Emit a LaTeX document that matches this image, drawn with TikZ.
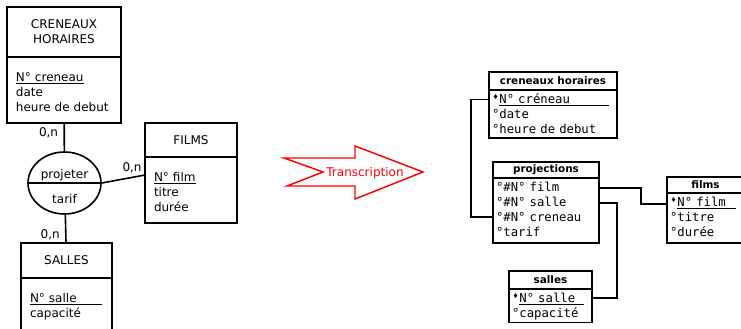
\documentclass[tikz,border=0pt]{standalone}
\usepackage{fontspec}
\setmainfont{DejaVu Sans}
\setmonofont{DejaVu Sans Mono}
\usepackage{graphicx}
\usetikzlibrary{positioning,shapes.geometric}

\newcommand{\marqcle}{\makebox[0.602em][c]{\raisebox{0.3em}{\scalebox{0.55}{\rmfamily ♦}}}}

\tikzset{
  entite/.style={draw, line width=1.2pt, outer sep=0pt, align=center, font=\fontsize{9}{11.25}\selectfont},
  attributs/.style={draw, line width=1.2pt, outer sep=0pt, align=left, inner xsep=6.75pt, inner ysep=0pt, text height=18pt, font=\fontsize{9}{11.25}\selectfont},
  assoc/.style={draw, ellipse, line width=1.2pt, inner sep=0pt, minimum width=54.75pt, minimum height=46.5pt, align=center, font=\fontsize{9}{11.25}\selectfont},
  cardin/.style={inner sep=2pt, font=\fontsize{9}{11.25}\selectfont},
  lien/.style={line width=1.2pt},
  tabletete/.style={draw, line width=1.1pt, outer sep=0pt, inner sep=0pt, font=\fontsize{7.8}{9}\selectfont\bfseries},
  champs/.style={draw, line width=1.1pt, outer sep=0pt, align=left, inner xsep=2.25pt, inner ysep=0pt, text height=10.25pt, font=\fontsize{9.2}{11.25}\selectfont\ttfamily},
  tablelien/.style={line width=1.1pt}
}

\begin{document}
\begin{tikzpicture}[x=0.75pt, y=-0.75pt]
    \useasboundingbox (0,0) rectangle (741,328);

    % Modele conceptuel
    \node[entite, minimum width=85.5pt, minimum height=37.5pt] (cren) at (64,32) {CRENEAUX\\HORAIRES};
    \node[attributs, text width=72pt, text depth=31.5pt, below=0pt of cren] (cren-att) {\underline{N° creneau}\\date\\heure de debut};

    \node[entite, minimum width=69pt, minimum height=25.5pt] (films) at (191,140) {FILMS};
    \node[attributs, text width=55.5pt, text depth=31.5pt, below=0pt of films] (films-att) {\underline{N° film}\\titre\\durée};

    \node[entite, minimum width=68.25pt, minimum height=26.25pt] (salles) at (66.5,260.5) {SALLES};
    \node[attributs, text width=54.75pt, text depth=30pt, below=0pt of salles] (salles-att) {\underline{N° salle\hspace{2.1em}}\\capacité};

    % Association
    \node[assoc] (proj) at (64.5,183) {\rule{0pt}{11.5pt}projeter\\[7.5pt]tarif};
    \draw[lien] (proj.west) -- (proj.east);

    \draw[lien] (cren-att) -- node[cardin, pos=0.35, left=2pt] {0,n} (proj);
    \draw[lien] (proj.east) -- node[cardin, pos=0.7, above=1pt] {0,n} ([yshift=-13.5pt]films-att.north west);
    \draw[lien] (proj) -- node[cardin, pos=0.72, left=2pt] {0,n} (salles);

    % Fleche
    \draw[red, line width=1.1pt] (284,158) -- (355,158) -- (355,146) -- (423,172) -- (355,199) -- (355,186) -- (287,186) -- (323,172) -- cycle;
    \node[text=red, font=\fontsize{9}{11.25}\selectfont] (transc) at (365,173) {Transcription};

    % Modele logique
    \node[tabletete, minimum width=96pt, minimum height=13.5pt] (t-cren) at (553,81) {creneaux horaires};
    \node[champs, text width=91.5pt, text depth=25.75pt, below=0pt of t-cren] (t-cren-ch) {\marqcle\underline{N° créneau\hspace{3.2em}}\\°date\\°heure de debut};

    \node[tabletete, minimum width=79.5pt, minimum height=12pt] (t-proj) at (546,170) {projections};
    \node[champs, text width=75pt, text depth=38.5pt, below=0pt of t-proj] (t-proj-ch) {°\#N° film\\°\#N° salle\\°\#N° creneau\\°tarif};

    \node[tabletete, minimum width=57.75pt, minimum height=12pt] (t-films) at (705.5,185) {films};
    \node[champs, text width=53.25pt, text depth=27.25pt, below=0pt of t-films] (t-films-ch) {\marqcle\underline{N° film\hspace{0.8em}}\\°titre\\°durée};

    \node[tabletete, minimum width=62.25pt, minimum height=13.25pt] (t-salles) at (550.5,280) {salles};
    \node[champs, text width=57.75pt, text depth=14.85pt, below=0pt of t-salles] (t-salles-ch) {\marqcle\underline{N° salle\hspace{0.7em}}\\°capacité};

    % Liens
    \draw[tablelien] ([yshift=-7pt]t-cren-ch.north west) -- ++(-18,0) |- ([yshift=-29.25pt]t-proj-ch.north west);
    \draw[tablelien] ([yshift=-7.5pt]t-proj-ch.north east) -- ++(42,0) |- ([yshift=-8.25pt]t-films-ch.north west);
    \draw[tablelien] ([yshift=-18.75pt]t-proj-ch.north east) -- ++(18,0) |- ([yshift=-6.75pt]t-salles-ch.north east);

\end{tikzpicture}
\end{document}
